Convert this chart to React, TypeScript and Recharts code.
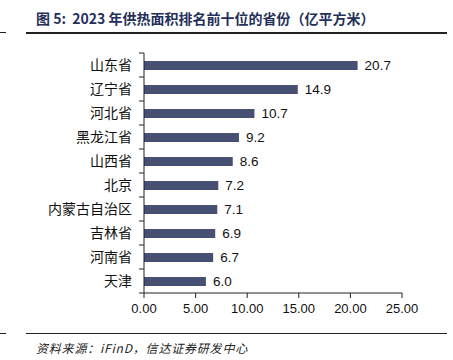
import { BarChart, Bar, XAxis, YAxis, LabelList } from 'recharts';

const provinces = ['山东省', '辽宁省', '河北省', '黑龙江省', '山西省', '北京', '内蒙古自治区', '吉林省', '河南省', '天津'];
const heatingArea = [20.7, 14.9, 10.7, 9.2, 8.6, 7.2, 7.1, 6.9, 6.7, 6.0];
const xTicks = [0, 5, 10, 15, 20, 25];

const data = provinces.map((name, i) => ({ name, value: heatingArea[i] }));

const FONT = '"Liberation Sans", Arial, "Noto Sans CJK SC", sans-serif';
const CJK = '"Noto Sans CJK SC", sans-serif';
const BAND = 24;

function ProvinceTick(props: any) {
  const { x, y, payload, index } = props;
  const ax = x + 12;
  return (
    <g>
      <text x={x} y={y} dy={5} textAnchor="end" fontSize={14} fill="#111" fontFamily={CJK}>
        {payload.value}
      </text>
      <line x1={ax - 5} x2={ax} y1={y - BAND / 2} y2={y - BAND / 2} stroke="#222" />
      {index === provinces.length - 1 && (
        <line x1={ax - 5} x2={ax} y1={y + BAND / 2} y2={y + BAND / 2} stroke="#222" />
      )}
    </g>
  );
}

export default function App() {
  return (
    <div style={{ position: 'absolute', left: 0, top: 0, width: 453, height: 360, background: '#fff' }}>
      <div style={{ position: 'absolute', left: 36, top: 8, fontFamily: CJK, fontWeight: 700, fontSize: 14, color: '#25305a', whiteSpace: 'nowrap' }}>
        图 5:&nbsp; 2023 年供热面积排名前十位的省份（亿平方米）
      </div>
      <div style={{ position: 'absolute', left: 0, top: 32, width: 6, height: 1, background: '#222' }} />
      <div style={{ position: 'absolute', left: 26, top: 32, width: 421, height: 2, background: '#222' }} />
      <div style={{ position: 'absolute', left: 0, top: 333, width: 6, height: 1, background: '#222' }} />
      <div style={{ position: 'absolute', left: 26, top: 333, width: 421, height: 1, background: '#222' }} />
      <div style={{ position: 'absolute', left: 36, top: 339, fontFamily: CJK, fontStyle: 'italic', fontSize: 12, letterSpacing: 0.8, color: '#222', whiteSpace: 'nowrap' }}>
        资料来源：iFinD，信达证券研发中心
      </div>
      <div style={{ position: 'absolute', left: 0, top: 0 }}>
        <BarChart width={453} height={360} data={data} layout="vertical" margin={{ top: 53, right: 51, left: 0, bottom: 37 }}>
          <XAxis
            type="number"
            domain={[0, 25]}
            ticks={xTicks}
            tickFormatter={(v: number) => v.toFixed(2)}
            axisLine={{ stroke: '#222' }}
            tickLine={{ stroke: '#222' }}
            tickSize={5}
            tickMargin={6}
            height={30}
            tick={{ fontSize: 13, fill: '#111', fontFamily: FONT }}
          />
          <YAxis
            type="category"
            dataKey="name"
            width={144}
            axisLine={{ stroke: '#222' }}
            tickLine={false}
            tickSize={0}
            tickMargin={12}
            interval={0}
            tick={<ProvinceTick />}
          />
          <Bar dataKey="value" fill="#474f72" barSize={9} isAnimationActive={false}>
            <LabelList dataKey="value" position="right" offset={7} formatter={(v: any) => Number(v).toFixed(1)} style={{ fontSize: 13.5, fill: '#111', fontFamily: FONT }} />
          </Bar>
        </BarChart>
      </div>
    </div>
  );
}
